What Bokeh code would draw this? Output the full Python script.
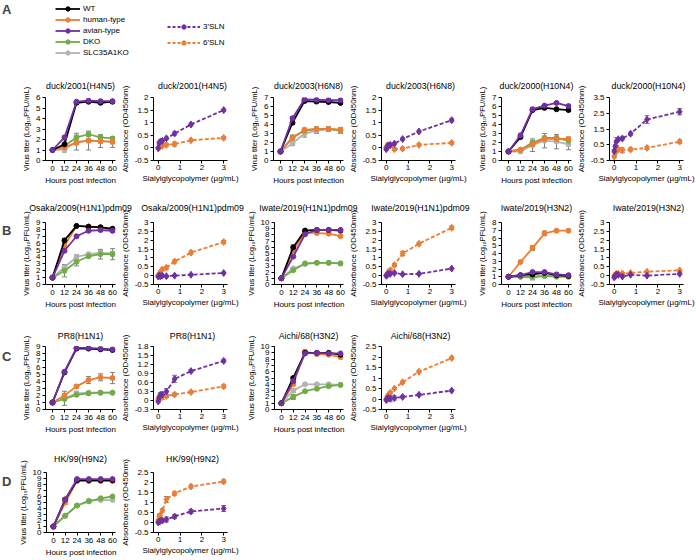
from bokeh.plotting import figure
from bokeh.models import (Range1d, ColumnDataSource, Whisker, TeeHead, Legend,
                          LegendItem, Label, FixedTicker, CustomJSTickFormatter)
from bokeh.layouts import row, column
from bokeh.embed import file_html
from bokeh.resources import INLINE

FONT = "Liberation Sans"
C_WT, C_HU, C_AV, C_DKO, C_SLC = "#000000", "#ED7D31", "#7030A0", "#70AD47", "#B4B4B4"
C_ERR = "#7F7F7F"
NAN = float("nan")
LINE_W = 1.8

# ---------------- data ----------------
hours = [0, 12, 24, 36, 48, 60]
conc = [0, 0.047, 0.094, 0.1875, 0.375, 0.75, 1.5, 3]
hour_ticks = [0, 12, 24, 36, 48, 60]
conc_ticks = [0, 1, 2, 3]
cell_labels = ["WT", "human-type", "avian-type", "DKO", "SLC35A1KO"]
probe_labels = ["3'SLN", "6'SLN"]

# Row A
A1_title = "duck/2001(H4N5)"
A1_yticks = [0, 1, 2, 3, 4, 5, 6]
A1_wt = [1.0, 1.55, 5.5, 5.6, 5.5, 5.6];   A1_wt_sd = [0.05, 0.4, 0.15, 0.1, 0.1, 0.1]
A1_hu = [1.0, 1.25, 1.7, 1.9, 1.85, 1.8];  A1_hu_sd = [0.05, 0.15, 0.2, 0.2, 0.2, 0.2]
A1_av = [1.0, 2.2, 5.6, 5.7, 5.65, 5.65];  A1_av_sd = [0.05, 0.15, 0.1, 0.1, 0.1, 0.1]
A1_dko = [1.0, 1.4, 2.2, 2.5, 2.2, 2.1];   A1_dko_sd = [0.05, 0.15, 0.2, 0.2, 0.2, 0.15]
A1_slc = [1.0, 1.05, 1.8, 1.9, 1.85, 1.75]; A1_slc_sd = [0.05, 0.25, 0.8, 0.9, 0.6, 0.5]

A2_title = "duck/2001(H4N5)"
A2_yticks = [-0.5, 0, 0.5, 1, 1.5, 2]
A2_3sln = [0.0, 0.2, 0.25, 0.28, 0.38, 0.57, 0.93, 1.5]; A2_3sln_sd = [0.03, 0.05, 0.05, 0.05, 0.05, 0.06, 0.06, 0.05]
A2_6sln = [-0.02, 0.03, 0.05, 0.08, 0.12, 0.15, 0.3, 0.4]; A2_6sln_sd = [0.03, 0.04, 0.04, 0.05, 0.05, 0.08, 0.05, 0.05]

A3_title = "duck/2003(H6N8)"
A3_yticks = [0, 1, 2, 3, 4, 5, 6, 7]
A3_wt = [1, 4.2, 6.6, 6.55, 6.5, 6.4];  A3_wt_sd = [0.05, 0.2, 0.1, 0.1, 0.1, 0.15]
A3_hu = [1, 2.5, 3.4, 3.5, 3.5, 3.4];   A3_hu_sd = [0.05, 0.2, 0.2, 0.2, 0.2, 0.2]
A3_av = [1, 4.7, 6.8, 6.75, 6.7, 6.7];  A3_av_sd = [0.05, 0.15, 0.1, 0.1, 0.1, 0.1]
A3_dko = [1, 2.6, 3.3, 3.5, 3.5, 3.4];  A3_dko_sd = [0.05, 0.2, 0.2, 0.2, 0.2, 0.2]
A3_slc = [1, 1.9, 3.0, 3.3, 3.5, 3.3];  A3_slc_sd = [0.05, 0.25, 0.4, 0.3, 0.25, 0.3]

A4_title = "duck/2003(H6N8)"
A4_yticks = [-0.5, 0, 0.5, 1, 1.5, 2]
A4_3sln = [-0.05, 0.05, 0.1, 0.12, 0.17, 0.35, 0.65, 1.1]; A4_3sln_sd = [0.04, 0.04, 0.04, 0.04, 0.04, 0.05, 0.05, 0.07]
A4_6sln = [0.0, 0.1, 0.05, 0.1, -0.05, -0.03, 0.12, 0.2]; A4_6sln_sd = [0.05, 0.05, 0.05, 0.05, 0.05, 0.05, 0.05, 0.05]

A5_title = "duck/2000(H10N4)"
A5_yticks = [0, 1, 2, 3, 4, 5, 6, 7]
A5_wt = [1, 2.6, 5.6, 5.85, 5.7, 5.6];  A5_wt_sd = [0.05, 0.1, 0.1, 0.1, 0.1, 0.1]
A5_hu = [1, 1.2, 1.8, 2.4, 2.4, 2.4];   A5_hu_sd = [0.05, 0.1, 0.2, 0.2, 0.2, 0.2]
A5_av = [1, 2.8, 5.7, 6.1, 6.4, 6.05];  A5_av_sd = [0.05, 0.1, 0.1, 0.1, 0.1, 0.1]
A5_dko = [1, 1.2, 2.0, 2.5, 2.5, 2.2];  A5_dko_sd = [0.05, 0.1, 0.2, 0.2, 0.2, 0.2]
A5_slc = [1, 1.0, 1.7, 2.2, 2.1, 1.8];  A5_slc_sd = [0.05, 0.15, 0.7, 0.8, 0.8, 0.6]

A6_title = "duck/2000(H10N4)"
A6_yticks = [-0.5, 0.5, 1.5, 2.5, 3.5]
A6_3sln = [0.1, 0.4, 0.7, 0.85, 0.9, 1.2, 2.1, 2.6]; A6_3sln_sd = [0.1, 0.1, 0.25, 0.1, 0.1, 0.1, 0.25, 0.2]
A6_6sln = [-0.25, 0.0, 0.15, 0.2, 0.15, 0.2, 0.3, 0.7]; A6_6sln_sd = [0.08, 0.08, 0.1, 0.1, 0.15, 0.1, 0.1, 0.1]

# Row B
B1_title = "Osaka/2009(H1N1)pdm09"
B1_yticks = [0, 1, 2, 3, 4, 5, 6, 7, 8, 9]
B1_wt = [1, 6.4, 8.5, 8.4, 8.3, 8.1];  B1_wt_sd = [0.05, 0.3, 0.1, 0.1, 0.1, 0.15]
B1_hu = [1, 5.6, 8.5, 8.4, 8.3, 7.9];  B1_hu_sd = [0.05, 0.3, 0.1, 0.1, 0.1, 0.1]
B1_av = [1, 4.9, 7.0, 7.8, 7.9, 7.8];  B1_av_sd = [0.05, 0.2, 0.2, 0.2, 0.2, 0.2]
B1_dko = [1, 2.0, 3.3, 4.1, 4.4, 4.4]; B1_dko_sd = [0.05, 0.9, 0.6, 0.2, 0.7, 0.8]
B1_slc = [1, 2.5, 4.0, 4.4, 4.6, 4.5]; B1_slc_sd = [0.05, 0.4, 0.3, 0.2, 0.3, 0.3]

B2_title = "Osaka/2009(H1N1)pdm09"
B2_yticks = [-0.5, 0, 0.5, 1, 1.5, 2, 2.5, 3]
B2_3sln = [-0.05, 0.0, -0.03, 0.0, -0.03, 0.0, 0.05, 0.15]; B2_3sln_sd = [0.05, 0.05, 0.05, 0.05, 0.05, 0.05, 0.05, 0.05]
B2_6sln = [0.0, 0.1, 0.2, 0.35, 0.45, 0.8, 1.3, 1.9]; B2_6sln_sd = [0.03, 0.05, 0.05, 0.08, 0.08, 0.08, 0.1, 0.08]

B3_title = "Iwate/2019(H1N1)pdm09"
B3_yticks = [0, 1, 2, 3, 4, 5, 6, 7, 8, 9, 10]
B3_wt = [1, 6.0, 8.7, 8.8, 8.8, 8.7];  B3_wt_sd = [0.05, 0.4, 0.1, 0.1, 0.1, 0.1]
B3_hu = [1, 5.5, 8.4, 8.3, 8.2, 7.8];  B3_hu_sd = [0.05, 0.3, 0.1, 0.1, 0.1, 0.1]
B3_av = [1, 4.5, 8.1, 8.8, 8.8, 8.8];  B3_av_sd = [0.05, 0.2, 0.1, 0.1, 0.1, 0.1]
B3_dko = [1, 2.3, 3.4, 3.5, 3.5, 3.4]; B3_dko_sd = [0.05, 0.15, 0.1, 0.1, 0.1, 0.1]
B3_slc = [1, 2.6, 3.3, 3.5, 3.5, 3.4]; B3_slc_sd = [0.05, 0.15, 0.15, 0.1, 0.1, 0.1]

B4_title = "Iwate/2019(H1N1)pdm09"
B4_yticks = [-0.5, 0, 0.5, 1, 1.5, 2, 2.5, 3]
B4_3sln = [0.0, 0.05, 0.1, 0.1, 0.15, 0.08, 0.1, 0.4]; B4_3sln_sd = [0.05, 0.05, 0.05, 0.05, 0.05, 0.05, 0.05, 0.05]
B4_6sln = [0.0, 0.1, 0.2, 0.3, 0.6, 1.25, 1.8, 2.7]; B4_6sln_sd = [0.03, 0.05, 0.05, 0.08, 0.08, 0.12, 0.08, 0.1]

B5_title = "Iwate/2019(H3N2)"
B5_yticks = [0, 1, 2, 3, 4, 5, 6, 7, 8]
B5_wt = [1, 1.2, 1.3, 1.5, 1.2, 1.1];   B5_wt_sd = [0.05, 0.1, 0.2, 0.2, 0.1, 0.1]
B5_hu = [1, 2.9, 4.7, 6.6, 6.95, 6.95]; B5_hu_sd = [0.05, 0.15, 0.3, 0.3, 0.1, 0.1]
B5_av = [1, 1.2, 1.6, 1.6, 1.3, 1.2];   B5_av_sd = [0.05, 0.15, 0.2, 0.2, 0.15, 0.15]
B5_dko = [1, 1.0, 1.0, 1.1, 1.0, 1.0];  B5_dko_sd = [0.05, 0.05, 0.05, 0.05, 0.05, 0.05]
B5_slc = [1, 1.0, 0.9, 1.1, 1.1, 1.1];  B5_slc_sd = [0.05, 0.1, 0.3, 0.1, 0.1, 0.1]

B6_title = "Iwate/2019(H3N2)"
B6_yticks = [-0.5, 0, 0.5, 1, 1.5, 2, 2.5, 3]
B6_3sln = [-0.1, 0.0, 0.05, 0.05, -0.05, 0.05, 0.0, 0.1]; B6_3sln_sd = [0.05, 0.05, 0.05, 0.05, 0.05, 0.05, 0.05, 0.05]
B6_6sln = [0.0, 0.05, 0.1, 0.1, 0.12, 0.15, 0.22, 0.3]; B6_6sln_sd = [0.05, 0.05, 0.05, 0.05, 0.05, 0.05, 0.05, 0.05]

# Row C
C1_title = "PR8(H1N1)"
C1_yticks = [0, 1, 2, 3, 4, 5, 6, 7, 8, 9]
C1_wt = [1, 5.3, 8.7, 8.7, 8.6, 8.5];  C1_wt_sd = [0.05, 0.1, 0.1, 0.1, 0.1, 0.1]
C1_hu = [1, 2.0, 3.3, 4.2, 4.6, 4.5];  C1_hu_sd = [0.05, 0.3, 0.2, 0.5, 0.5, 0.8]
C1_av = [1, 5.4, 8.8, 8.8, 8.7, 8.6];  C1_av_sd = [0.05, 0.1, 0.1, 0.1, 0.1, 0.1]
C1_dko = [1, 1.5, 2.1, 2.3, 2.4, 2.4]; C1_dko_sd = [0.05, 0.2, 0.2, 0.1, 0.1, 0.1]
C1_slc = [1, 1.6, 2.3, 2.4, 2.4, 2.4]; C1_slc_sd = [0.05, 1.0, 0.3, 0.2, 0.15, 0.15]

C2_title = "PR8(H1N1)"
C2_yticks = [-0.3, 0, 0.3, 0.6, 0.9, 1.2, 1.5, 1.8]
C2_3sln = [-0.03, 0.1, 0.18, 0.2, 0.3, 0.72, 0.98, 1.32]; C2_3sln_sd = [0.03, 0.05, 0.08, 0.08, 0.1, 0.12, 0.05, 0.05]
C2_6sln = [0.05, 0.08, 0.12, 0.12, 0.15, 0.2, 0.28, 0.47]; C2_6sln_sd = [0.03, 0.05, 0.1, 0.08, 0.05, 0.05, 0.05, 0.05]

C3_title = "Aichi/68(H3N2)"
C3_yticks = [0, 1, 2, 3, 4, 5, 6, 7, 8, 9, 10]
C3_wt = [1, 5.0, 9.0, 9.0, 9.0, 8.7];  C3_wt_sd = [0.05, 0.2, 0.1, 0.1, 0.1, 0.1]
C3_hu = [1, 4.0, 9.2, 8.8, 8.7, 8.3];  C3_hu_sd = [0.05, 0.2, 0.1, 0.1, 0.1, 0.1]
C3_av = [1, 4.5, 8.9, 9.0, 8.9, 8.9];  C3_av_sd = [0.05, 0.2, 0.1, 0.1, 0.1, 0.1]
C3_dko = [1, 2.0, 2.9, 3.3, 3.7, 3.9]; C3_dko_sd = [0.05, 0.4, 0.1, 0.1, 0.1, 0.1]
C3_slc = [1, 3.0, 4.0, 4.0, 4.0, 3.9]; C3_slc_sd = [0.05, 0.3, 0.1, 0.1, 0.1, 0.1]

C4_title = "Aichi/68(H3N2)"
C4_yticks = [-0.5, 0, 0.5, 1, 1.5, 2, 2.5]
C4_3sln = [-0.05, 0.02, 0.05, 0.02, 0.05, 0.1, 0.2, 0.4]; C4_3sln_sd = [0.03, 0.05, 0.08, 0.15, 0.1, 0.05, 0.05, 0.05]
C4_6sln = [0.0, 0.1, 0.2, 0.3, 0.5, 0.8, 1.3, 1.95]; C4_6sln_sd = [0.03, 0.05, 0.05, 0.05, 0.05, 0.05, 0.05, 0.05]

# Row D
D1_title = "HK/99(H9N2)"
D1_yticks = [0, 1, 2, 3, 4, 5, 6, 7, 8, 9, 10]
D1_wt = [1, 5.5, 8.7, 8.7, 8.7, 8.7];  D1_wt_sd = [0.05, 0.3, 0.1, 0.1, 0.1, 0.1]
D1_hu = [1, 5.0, 8.6, 8.6, 8.6, 8.6];  D1_hu_sd = [0.05, 0.3, 0.1, 0.1, 0.1, 0.1]
D1_av = [1, 5.5, 8.9, 8.9, 8.9, 8.9];  D1_av_sd = [0.05, 0.3, 0.1, 0.1, 0.1, 0.1]
D1_dko = [1, 2.8, 4.5, 5.2, 5.7, 6.0]; D1_dko_sd = [0.05, 0.1, 0.1, 0.1, 0.1, 0.15]
D1_slc = [1, 2.8, 4.5, 5.3, 5.4, 5.4]; D1_slc_sd = [0.05, 0.1, 0.1, 0.1, 0.1, 0.1]

D2_title = "HK/99(H9N2)"
D2_yticks = [-0.5, 0, 0.5, 1, 1.5, 2, 2.5]
D2_3sln = [0.0, 0.05, 0.08, 0.1, 0.15, 0.3, 0.55, 0.7]; D2_3sln_sd = [0.03, 0.05, 0.08, 0.08, 0.12, 0.1, 0.1, 0.15]
D2_6sln = [0.1, 0.3, 0.35, 0.6, 1.15, 1.45, 1.8, 2.05]; D2_6sln_sd = [0.05, 0.1, 0.1, 0.08, 0.15, 0.08, 0.08, 0.08]

# ---------------- layout geometry (px) ----------------
PAGE_W = 696
LETTER_W = 15
PAIR = 228
LW, LBL, LFW, EXT = 102, 30, 70, 20          # titer panel: width, left border, frame width, overlap
RW, RBL, RFW, RBR_LAST = 126, 32, 78, 13     # absorbance panel
TX0, TX1 = -7, 63                            # titer x range
AX0, AX1 = -0.217, 3.174                     # absorbance x range
STRIP_H = 30                                 # title strip, overlapped by its row
RIGHT_TITLE_SHIFT = 4
ROWS = {
    "A": dict(top=70, h=120, ty=85, lt=96, lb=160, rt=97, rb=165),
    "B": dict(top=190, h=124, ty=207, lt=222, lb=284, rt=220, rb=289),
    "C": dict(top=314, h=122, ty=335, lt=346, lb=409, rt=346, rb=409),
    "D": dict(top=436, h=124, ty=458, lt=471, lb=532, rt=472, rb=535),
}

FMT = CustomJSTickFormatter(code="return String(Math.round(tick * 100) / 100);")


def style(p, xstand, xlstand):
    p.border_fill_alpha = 0
    p.background_fill_alpha = 0
    p.outline_line_color = None
    p.xgrid.visible = False
    p.ygrid.visible = False
    for ax in (p.xaxis[0], p.yaxis[0]):
        ax.formatter = FMT
        ax.axis_line_color = "black"
        ax.axis_line_width = 1
        ax.major_tick_line_color = "black"
        ax.major_tick_out = 3
        ax.major_tick_in = 0
        ax.minor_tick_line_color = None
        ax.major_label_text_font = FONT
        ax.major_label_text_font_size = "8px"
        ax.major_label_text_color = "black"
        ax.major_label_standoff = 2
        ax.axis_label_text_font = FONT
        ax.axis_label_text_font_size = "8px"
        ax.axis_label_text_font_style = "normal"
        ax.axis_label_text_color = "black"
        ax.axis_label_standoff = 2
    p.xaxis.major_label_standoff = xstand
    p.xaxis.axis_label_standoff = xlstand


def add_series(p, xs, ys, sd, color, dash, marker, size):
    src = ColumnDataSource(dict(x=xs, y=ys,
                                lo=[a - b for a, b in zip(ys, sd)],
                                hi=[a + b for a, b in zip(ys, sd)]))
    p.add_layout(Whisker(source=src, base="x", lower="lo", upper="hi",
                         line_color=C_ERR, line_width=1,
                         upper_head=TeeHead(size=5, line_color=C_ERR, line_width=1),
                         lower_head=TeeHead(size=5, line_color=C_ERR, line_width=1)))
    p.line("x", "y", source=src, line_color=color, line_width=LINE_W, line_dash=dash)
    p.scatter("x", "y", source=src, marker=marker, size=size,
              fill_color=color, line_color=color)


def titer_fig(geo, yticks, series):
    p = figure(width=LW + EXT, height=geo["h"],
               min_border_left=LBL, min_border_right=LW - LBL - LFW + EXT,
               min_border_top=geo["lt"] - geo["top"],
               min_border_bottom=geo["top"] + geo["h"] - geo["lb"],
               x_range=Range1d(TX0, TX1), y_range=Range1d(yticks[0], yticks[-1]),
               toolbar_location=None, output_backend="svg",
               x_axis_label="Hours post infection",
               y_axis_label="Virus titer (Log\u2081\u2080PFU/mL)")
    style(p, 2, 2)
    p.xaxis.ticker = FixedTicker(ticks=hour_ticks)
    p.yaxis.ticker = FixedTicker(ticks=yticks)
    p.yaxis.axis_label_text_font_size = "7.5px"
    for ys, sd, color in series:
        add_series(p, hours, ys, sd, color, "solid", "circle", 5)
    return p


def abs_fig(geo, yticks, series, last=False):
    rbr = RBR_LAST if last else RW - RBL - RFW
    p = figure(width=RBL + RFW + rbr, height=geo["h"],
               min_border_left=RBL, min_border_right=rbr,
               min_border_top=geo["rt"] - geo["top"],
               min_border_bottom=geo["top"] + geo["h"] - geo["rb"],
               x_range=Range1d(AX0, AX1), y_range=Range1d(yticks[0], yticks[-1]),
               toolbar_location=None, output_backend="svg",
               x_axis_label="Sialylglycopolymer (\u00b5g/mL)",
               y_axis_label="Absorbance (OD450nm)")
    style(p, 1, 1)
    p.margin = (0, 0, 0, -EXT)
    p.xaxis.ticker = FixedTicker(ticks=conc_ticks)
    p.yaxis.ticker = FixedTicker(ticks=yticks)
    for ys, sd, color in series:
        add_series(p, conc, ys, sd, color, "4 2", "diamond", 7)
    return p


def blank_fig(w, h):
    p = figure(width=w, height=h, x_range=Range1d(0, w), y_range=Range1d(0, h),
               min_border=0, toolbar_location=None, output_backend="svg",
               x_axis_type=None, y_axis_type=None)
    p.outline_line_color = None
    p.border_fill_alpha = 0
    p.background_fill_alpha = 0
    return p


def letter_fig(letter, geo, y_abs):
    h = geo["h"]
    p = blank_fig(LETTER_W, h)
    if letter:
        p.add_layout(Label(x=1.5, y=h - (y_abs - geo["top"]), text=letter, text_font=FONT,
                           text_font_style="bold", text_font_size="13px",
                           text_baseline="middle", text_align="left"))
    return p


def title_strip(geo, titles):
    # titles: list of (left-panel title, right-panel title) per pair
    p = blank_fig(PAGE_W, STRIP_H)
    y = STRIP_H - (geo["ty"] - geo["top"])
    for k, (tl, tr) in enumerate(titles):
        start = LETTER_W + k * PAIR
        cx_left = start + LBL + LFW / 2
        cx_right = start + LW + RBL + RFW / 2 + RIGHT_TITLE_SHIFT
        for text, cx in ((tl, cx_left), (tr, cx_right)):
            p.add_layout(Label(x=cx, y=y, text=text, text_font=FONT, text_font_size="8.8px",
                               text_color="black", text_align="center", text_baseline="middle"))
    return p


def tser(wt, wt_sd, hu, hu_sd, av, av_sd, dko, dko_sd, slc, slc_sd):
    return [(slc, slc_sd, C_SLC), (dko, dko_sd, C_DKO), (hu, hu_sd, C_HU),
            (wt, wt_sd, C_WT), (av, av_sd, C_AV)]


def aser(s3, s3_sd, s6, s6_sd):
    return [(s6, s6_sd, C_HU), (s3, s3_sd, C_AV)]


# ---------------- legend strip ----------------
LEG_H = 70
leg = blank_fig(PAGE_W, LEG_H)
items1 = []
for lab, col in zip(cell_labels, [C_WT, C_HU, C_AV, C_DKO, C_SLC]):
    r1 = leg.line(x=[NAN], y=[NAN], line_color=col, line_width=LINE_W)
    r2 = leg.scatter(x=[NAN], y=[NAN], marker="circle", size=5, fill_color=col, line_color=col)
    items1.append(LegendItem(label=lab, renderers=[r1, r2]))
items2 = []
for lab, col in zip(probe_labels, [C_AV, C_HU]):
    r1 = leg.line(x=[NAN], y=[NAN], line_color=col, line_width=LINE_W, line_dash="3 2")
    r2 = leg.scatter(x=[NAN], y=[NAN], marker="circle", size=5, fill_color=col, line_color=col)
    items2.append(LegendItem(label=lab, renderers=[r1, r2]))
for items, loc, gw, sp in ((items1, (55, 12.5), 25, 0), (items2, (167, 21.8), 33, 5)):
    lg = Legend(items=items, location=loc, glyph_width=gw, glyph_height=11,
                label_height=11, label_standoff=3, spacing=sp, padding=0, margin=0,
                border_line_color=None, background_fill_alpha=0,
                label_text_font=FONT, label_text_font_size="8px",
                label_text_color="black")
    leg.add_layout(lg)
leg.add_layout(Label(x=1.5, y=LEG_H - 8.5, text="A", text_font=FONT, text_font_style="bold",
                     text_font_size="13px", text_baseline="middle", text_align="left"))

# ---------------- rows ----------------
gA, gB, gC, gD = ROWS["A"], ROWS["B"], ROWS["C"], ROWS["D"]
OVER = (-STRIP_H, 0, 0, 0)

stripA = title_strip(gA, [(A1_title, A2_title), (A3_title, A4_title), (A5_title, A6_title)])
rowA = row(
    letter_fig(None, gA, 0),
    titer_fig(gA, A1_yticks, tser(A1_wt, A1_wt_sd, A1_hu, A1_hu_sd, A1_av, A1_av_sd, A1_dko, A1_dko_sd, A1_slc, A1_slc_sd)),
    abs_fig(gA, A2_yticks, aser(A2_3sln, A2_3sln_sd, A2_6sln, A2_6sln_sd)),
    titer_fig(gA, A3_yticks, tser(A3_wt, A3_wt_sd, A3_hu, A3_hu_sd, A3_av, A3_av_sd, A3_dko, A3_dko_sd, A3_slc, A3_slc_sd)),
    abs_fig(gA, A4_yticks, aser(A4_3sln, A4_3sln_sd, A4_6sln, A4_6sln_sd)),
    titer_fig(gA, A5_yticks, tser(A5_wt, A5_wt_sd, A5_hu, A5_hu_sd, A5_av, A5_av_sd, A5_dko, A5_dko_sd, A5_slc, A5_slc_sd)),
    abs_fig(gA, A6_yticks, aser(A6_3sln, A6_3sln_sd, A6_6sln, A6_6sln_sd), last=True),
    margin=OVER,
)
stripB = title_strip(gB, [(B1_title, B2_title), (B3_title, B4_title), (B5_title, B6_title)])
rowB = row(
    letter_fig("B", gB, 205),
    titer_fig(gB, B1_yticks, tser(B1_wt, B1_wt_sd, B1_hu, B1_hu_sd, B1_av, B1_av_sd, B1_dko, B1_dko_sd, B1_slc, B1_slc_sd)),
    abs_fig(gB, B2_yticks, aser(B2_3sln, B2_3sln_sd, B2_6sln, B2_6sln_sd)),
    titer_fig(gB, B3_yticks, tser(B3_wt, B3_wt_sd, B3_hu, B3_hu_sd, B3_av, B3_av_sd, B3_dko, B3_dko_sd, B3_slc, B3_slc_sd)),
    abs_fig(gB, B4_yticks, aser(B4_3sln, B4_3sln_sd, B4_6sln, B4_6sln_sd)),
    titer_fig(gB, B5_yticks, tser(B5_wt, B5_wt_sd, B5_hu, B5_hu_sd, B5_av, B5_av_sd, B5_dko, B5_dko_sd, B5_slc, B5_slc_sd)),
    abs_fig(gB, B6_yticks, aser(B6_3sln, B6_3sln_sd, B6_6sln, B6_6sln_sd), last=True),
    margin=OVER,
)
stripC = title_strip(gC, [(C1_title, C2_title), (C3_title, C4_title)])
rowC = row(
    letter_fig("C", gC, 333),
    titer_fig(gC, C1_yticks, tser(C1_wt, C1_wt_sd, C1_hu, C1_hu_sd, C1_av, C1_av_sd, C1_dko, C1_dko_sd, C1_slc, C1_slc_sd)),
    abs_fig(gC, C2_yticks, aser(C2_3sln, C2_3sln_sd, C2_6sln, C2_6sln_sd)),
    titer_fig(gC, C3_yticks, tser(C3_wt, C3_wt_sd, C3_hu, C3_hu_sd, C3_av, C3_av_sd, C3_dko, C3_dko_sd, C3_slc, C3_slc_sd)),
    abs_fig(gC, C4_yticks, aser(C4_3sln, C4_3sln_sd, C4_6sln, C4_6sln_sd)),
    margin=OVER,
)
stripD = title_strip(gD, [(D1_title, D2_title)])
rowD = row(
    letter_fig("D", gD, 454),
    titer_fig(gD, D1_yticks, tser(D1_wt, D1_wt_sd, D1_hu, D1_hu_sd, D1_av, D1_av_sd, D1_dko, D1_dko_sd, D1_slc, D1_slc_sd)),
    abs_fig(gD, D2_yticks, aser(D2_3sln, D2_3sln_sd, D2_6sln, D2_6sln_sd)),
    margin=OVER,
)

layout = column(leg, stripA, rowA, stripB, rowB, stripC, rowC, stripD, rowD)
open("out.html", "w").write(file_html(layout, INLINE))
